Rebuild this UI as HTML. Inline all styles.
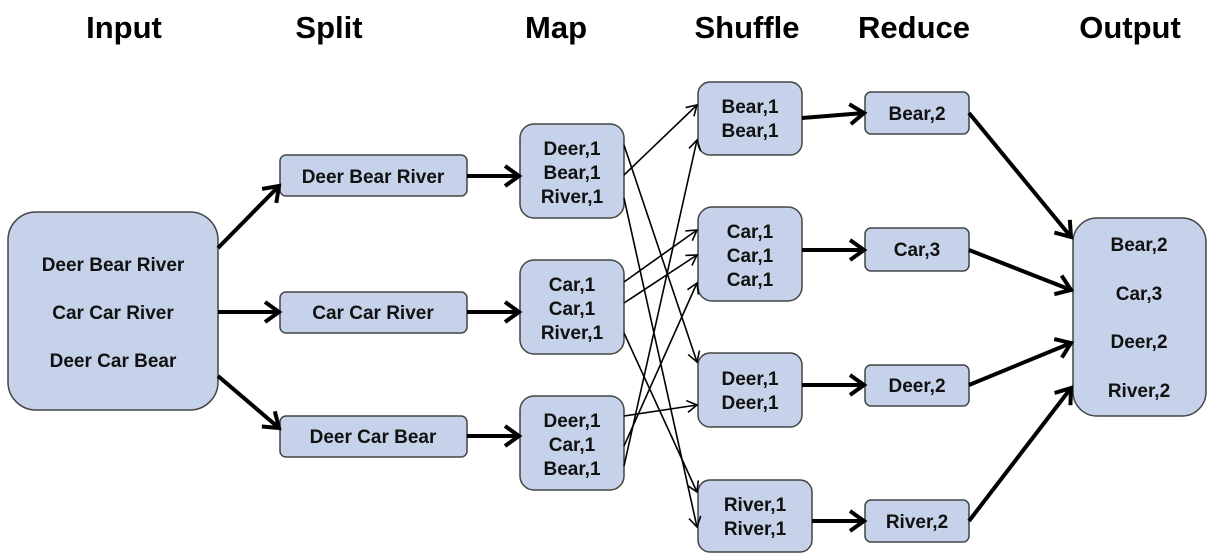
<!DOCTYPE html>
<html><head><style>
body{margin:0;background:#fff;}
svg{display:block;font-family:"Liberation Sans",Arial,sans-serif;font-weight:bold;}
.h{font-size:31px;fill:#000;}
.t{font-size:19px;fill:#111;}
rect{fill:#c5d2ea;stroke:#444;stroke-width:1.5;}
.k{stroke:#000;stroke-width:4;fill:none;marker-end:url(#ak);}
.n{stroke:#000;stroke-width:1.6;fill:none;marker-end:url(#an);}
</style></head><body>
<svg width="1216" height="560" viewBox="0 0 1216 560">
<defs>
<marker id="ak" markerUnits="userSpaceOnUse" markerWidth="30" markerHeight="30" refX="20" refY="15" orient="auto">
<polyline points="6,5 20,15 6,25" fill="none" stroke="#000" stroke-width="4"/></marker>
<marker id="an" markerUnits="userSpaceOnUse" markerWidth="20" markerHeight="20" refX="14" refY="10" orient="auto">
<polyline points="4,4 14,10 4,16" fill="none" stroke="#000" stroke-width="1.6"/></marker>
</defs>
<g class="h" text-anchor="middle">
<text x="124" y="38">Input</text><text x="329" y="38">Split</text><text x="556" y="38">Map</text>
<text x="747" y="38">Shuffle</text><text x="914" y="38">Reduce</text><text x="1130" y="38">Output</text>
</g>
<rect x="8" y="212" width="210" height="198" rx="28"/>
<rect x="280" y="155" width="187" height="41" rx="6"/>
<rect x="280" y="292" width="187" height="41" rx="6"/>
<rect x="280" y="416" width="187" height="41" rx="6"/>
<rect x="520" y="124" width="104" height="94" rx="14"/>
<rect x="520" y="260" width="104" height="94" rx="14"/>
<rect x="520" y="396" width="104" height="94" rx="14"/>
<rect x="698" y="82" width="104" height="73" rx="12"/>
<rect x="698" y="207" width="104" height="94" rx="14"/>
<rect x="698" y="353" width="104" height="74" rx="12"/>
<rect x="698" y="480" width="114" height="72" rx="12"/>
<rect x="865" y="92" width="104" height="42" rx="6"/>
<rect x="865" y="228" width="104" height="43" rx="6"/>
<rect x="865" y="365" width="104" height="41" rx="6"/>
<rect x="865" y="500" width="104" height="42" rx="6"/>
<rect x="1073" y="218" width="133" height="198" rx="24"/>
<g class="t" text-anchor="middle">
<text x="113" y="271">Deer Bear River</text><text x="113" y="319">Car Car River</text><text x="113" y="367">Deer Car Bear</text>
<text x="373" y="183">Deer Bear River</text><text x="373" y="319">Car Car River</text><text x="373" y="443">Deer Car Bear</text>
<text x="572" y="155">Deer,1</text><text x="572" y="179">Bear,1</text><text x="572" y="203">River,1</text>
<text x="572" y="291">Car,1</text><text x="572" y="315">Car,1</text><text x="572" y="339">River,1</text>
<text x="572" y="427">Deer,1</text><text x="572" y="451">Car,1</text><text x="572" y="475">Bear,1</text>
<text x="750" y="113">Bear,1</text><text x="750" y="137">Bear,1</text>
<text x="750" y="238">Car,1</text><text x="750" y="262">Car,1</text><text x="750" y="286">Car,1</text>
<text x="750" y="385">Deer,1</text><text x="750" y="409">Deer,1</text>
<text x="755" y="511">River,1</text><text x="755" y="535">River,1</text>
<text x="917" y="120">Bear,2</text><text x="917" y="256">Car,3</text><text x="917" y="392">Deer,2</text><text x="917" y="528">River,2</text>
<text x="1139" y="251">Bear,2</text><text x="1139" y="300">Car,3</text><text x="1139" y="348">Deer,2</text><text x="1139" y="397">River,2</text>
</g>
<line class="k" x1="218" y1="248" x2="279" y2="186"/>
<line class="k" x1="218" y1="312" x2="279" y2="312"/>
<line class="k" x1="218" y1="376" x2="279" y2="428"/>
<line class="k" x1="467" y1="176" x2="519" y2="176"/>
<line class="k" x1="467" y1="312" x2="519" y2="312"/>
<line class="k" x1="467" y1="436" x2="519" y2="436"/>
<line class="k" x1="802" y1="118" x2="864" y2="113"/>
<line class="k" x1="802" y1="250" x2="864" y2="250"/>
<line class="k" x1="802" y1="385" x2="864" y2="385"/>
<line class="k" x1="812" y1="521" x2="864" y2="521"/>
<line class="k" x1="969" y1="113" x2="1071" y2="237"/>
<line class="k" x1="969" y1="250" x2="1071" y2="290"/>
<line class="k" x1="969" y1="385" x2="1071" y2="343"/>
<line class="k" x1="969" y1="521" x2="1071" y2="388"/>
<line class="n" x1="624" y1="145" x2="697" y2="362"/>
<line class="n" x1="624" y1="175" x2="697" y2="105"/>
<line class="n" x1="624" y1="198" x2="697" y2="527"/>
<line class="n" x1="624" y1="282" x2="697" y2="230"/>
<line class="n" x1="624" y1="303" x2="697" y2="255"/>
<line class="n" x1="624" y1="333" x2="697" y2="492"/>
<line class="n" x1="624" y1="416" x2="697" y2="405"/>
<line class="n" x1="624" y1="446" x2="697" y2="283"/>
<line class="n" x1="624" y1="466" x2="697" y2="140"/>
</svg>
</body></html>
